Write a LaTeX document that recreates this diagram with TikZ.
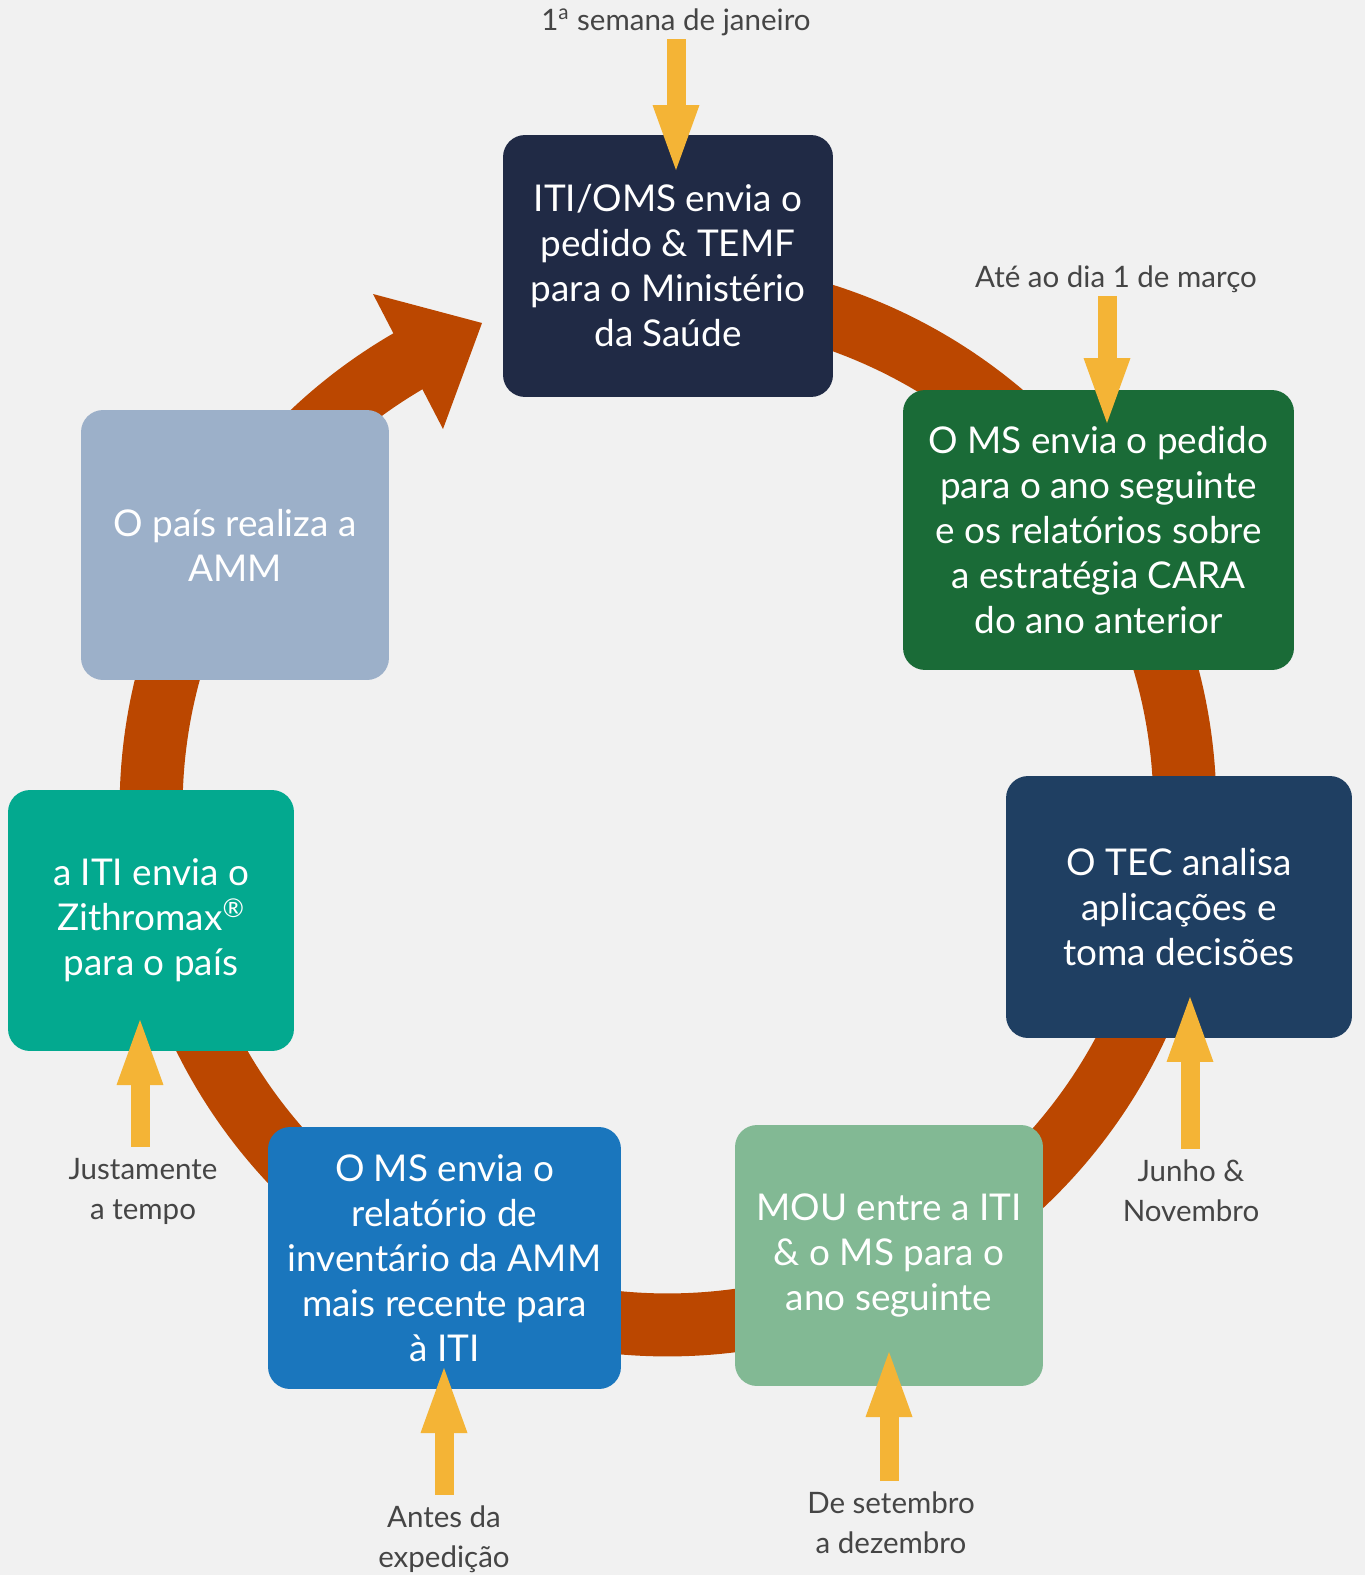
\documentclass[tikz,border=0pt]{standalone}
\usepackage{fontspec}
\setmainfont{Lato}
\usetikzlibrary{arrows.meta}

% Colours of the cycle
\definecolor{bggrey}{HTML}{F1F1F1}
\definecolor{ringorange}{HTML}{BB4700}
\definecolor{arrowyellow}{HTML}{F4B436}
\definecolor{lblgrey}{HTML}{454545}
\definecolor{navybox}{HTML}{202A45}
\definecolor{greenbox}{HTML}{1A6B37}
\definecolor{bluedarkbox}{HTML}{1F3F62}
\definecolor{sagebox}{HTML}{82B994}
\definecolor{bluebox}{HTML}{1A76BD}
\definecolor{tealbox}{HTML}{03A98F}
\definecolor{slatebox}{HTML}{9CB0C9}

\newcommand{\boxfont}{\fontsize{21}{25.6}\selectfont}
\newcommand{\lblfont}{\fontsize{16.8}{22.8}\selectfont}

\tikzset{
  stepbox/.style={rounded corners=0.44cm, text=white, align=center, inner sep=0pt, font=\boxfont},
  datelbl/.style={text=lblgrey, align=center, font=\lblfont, inner sep=2pt},
  yarrow/.style={draw=arrowyellow, line width=0.38cm,
    -{Triangle[length=1.3cm,width=0.94cm,line width=0pt]}},
}

\begin{document}
\begin{tikzpicture}[x=0.02cm, y=-0.02cm]
% Background
\fill[bggrey] (0,0) rectangle (1365,1575);
\useasboundingbox (0,0) rectangle (1365,1575);

% Drawing the ring
\coordinate (ctr) at (668,808);
\draw[ringorange, line width=1.26cm] (ctr) ++(95:10.34cm)
  arc[start angle=95, end angle=-241, radius=10.34cm];
% Ring arrow head
\fill[ringorange] (373,294) -- (482,323) -- (443,429) -- cycle;

% Steps of the cycle
\node[stepbox, fill=navybox, minimum width=6.6cm, minimum height=5.24cm] (pedido) at (668,266)
  {ITI/OMS envia o\\pedido \& TEMF\\para o Ministério\\da Saúde};
\node[stepbox, fill=greenbox, minimum width=7.82cm, minimum height=5.6cm] (relat) at (1098.5,530)
  {O MS envia o pedido\\para o ano seguinte\\e os relatórios sobre\\a estratégia CARA\\do ano anterior};
\node[stepbox, fill=bluedarkbox, minimum width=6.92cm, minimum height=5.24cm] (tec) at (1179,907)
  {O TEC analisa\\aplicações e\\toma decisões};
\node[stepbox, fill=sagebox, minimum width=6.16cm, minimum height=5.22cm] (mou) at (889,1255.5)
  {MOU entre a ITI\\\& o MS para o\\ano seguinte};
\node[stepbox, fill=bluebox, minimum width=7.06cm, minimum height=5.24cm] (invent) at (444.5,1258)
  {O MS envia o\\relatório de\\inventário da AMM\\mais recente para\\à ITI};
\node[stepbox, fill=tealbox, minimum width=5.72cm, minimum height=5.22cm] (zith) at (151,920.5)
  {a ITI envia o\\Zithromax\textsuperscript{®}\\para o país};
\node[stepbox, fill=slatebox, minimum width=6.16cm, minimum height=5.4cm] (amm) at (235,545)
  {O país realiza a\\AMM};

% Marking the dates
\node[datelbl] (janeiro) at (676,22) {1\textsuperscript{a} semana de janeiro};
\node[datelbl] (marco) at (1116,279) {Até ao dia 1 de março};
\node[datelbl] (junho) at (1191,1191) {Junho \&\\Novembro};
\node[datelbl] (setembro) at (891,1523) {De setembro\\a dezembro};
\node[datelbl] (antes) at (444,1539) {Antes da\\expedição};
\node[datelbl] (justo) at (143,1191) {Justamente\\a tempo};

% Tips of the date arrows
\coordinate (tipjan) at (676,170);
\coordinate (tipmar) at (1107,423);
\coordinate (tipjun) at (1190,997);
\coordinate (tipset) at (889,1352);
\coordinate (tipant) at (444,1368);
\coordinate (tipjus) at (140,1020);

% Drawing the date arrows
\draw[yarrow] (janeiro.south -| tipjan) -- (tipjan);
\draw[yarrow] (marco.south -| tipmar) -- (tipmar);
\draw[yarrow] ([yshift=4pt]junho.north -| tipjun) -- (tipjun);
\draw[yarrow] ([yshift=4pt]setembro.north -| tipset) -- (tipset);
\draw[yarrow] ([yshift=4pt]antes.north -| tipant) -- (tipant);
\draw[yarrow] ([yshift=4pt]justo.north -| tipjus) -- (tipjus);
\end{tikzpicture}
\end{document}
